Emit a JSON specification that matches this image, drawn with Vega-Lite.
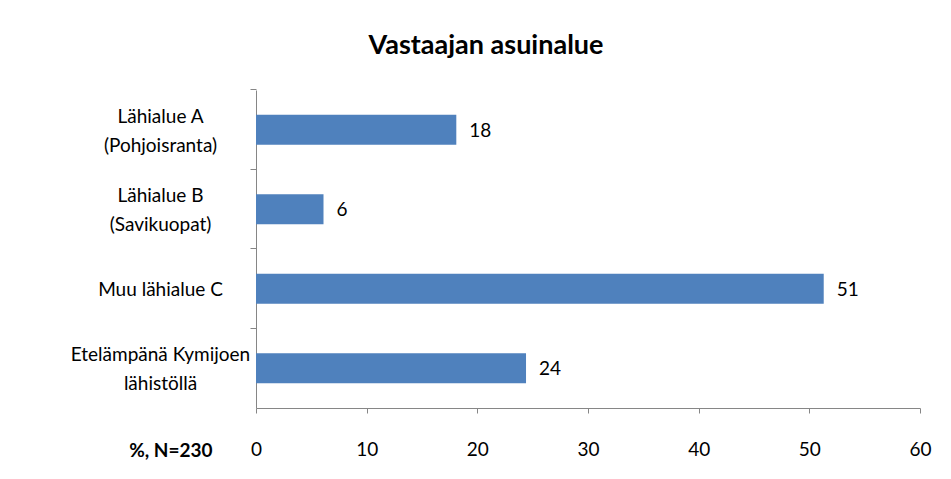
{
  "$schema": "https://vega.github.io/schema/vega-lite/v6.json",
  "width": 664,
  "height": 318,
  "autosize": {"type": "none"},
  "padding": {"left": 256, "top": 90, "right": 31, "bottom": 71},
  "background": "white",
  "title": {
    "text": "Vastaajan asuinalue",
    "font": "Lato",
    "fontSize": 27,
    "fontWeight": "bold",
    "color": "black",
    "anchor": "middle",
    "baseline": "alphabetic",
    "dx": -102,
    "offset": 8
  },
  "data": {
    "values": [
      {"label": "Lähialue A|(Pohjoisranta)", "value": 18.1, "text": "18"},
      {"label": "Lähialue B|(Savikuopat)", "value": 6.1, "text": "6"},
      {"label": "Muu lähialue  C", "value": 51.3, "text": "51"},
      {"label": "Etelämpänä  Kymijoen|lähistöllä", "value": 24.4, "text": "24"}
    ]
  },
  "encoding": {
    "y": {
      "field": "label",
      "type": "nominal",
      "sort": null,
      "scale": {"paddingInner": 0.62, "paddingOuter": 0.31},
      "axis": {
        "title": null,
        "labelExpr": "split(datum.value, '|')",
        "labelAlign": "center",
        "labelBaseline": "middle",
        "labelOffset": {"condition": {"test": "indexof(datum.value, '|') >= 0", "value": -13}, "value": 1},
        "labelPadding": 90,
        "labelLineHeight": 29,
        "labelFont": "Lato",
        "labelFontSize": 19,
        "labelColor": "black",
        "domainColor": "#868686",
        "tickColor": "#868686",
        "tickSize": 6,
        "bandPosition": -0.816,
        "labelLimit": 300
      }
    },
    "x": {
      "field": "value",
      "type": "quantitative",
      "scale": {"domain": [0, 60], "nice": false},
      "axis": {
        "values": [0, 10, 20, 30, 40, 50, 60],
        "grid": false,
        "domainColor": "#868686",
        "tickColor": "#868686",
        "tickSize": 5,
        "labelPadding": 27,
        "labelFont": "Lato",
        "labelFontSize": 19,
        "labelColor": "black",
        "labelFlush": false,
        "title": "%, N=230",
        "titleFont": "Lato",
        "titleFontSize": 19,
        "titleFontWeight": "bold",
        "titleColor": "black",
        "titleX": -44,
        "titleY": 42,
        "titleAlign": "right",
        "titleBaseline": "middle"
      }
    }
  },
  "layer": [
    {"mark": {"type": "bar", "color": "#4F81BD"}},
    {
      "mark": {"type": "text", "align": "left", "dx": 13, "dy": 1, "font": "Lato", "fontSize": 19, "color": "black"},
      "encoding": {"text": {"field": "text"}}
    }
  ],
  "config": {"view": {"stroke": null}}
}
